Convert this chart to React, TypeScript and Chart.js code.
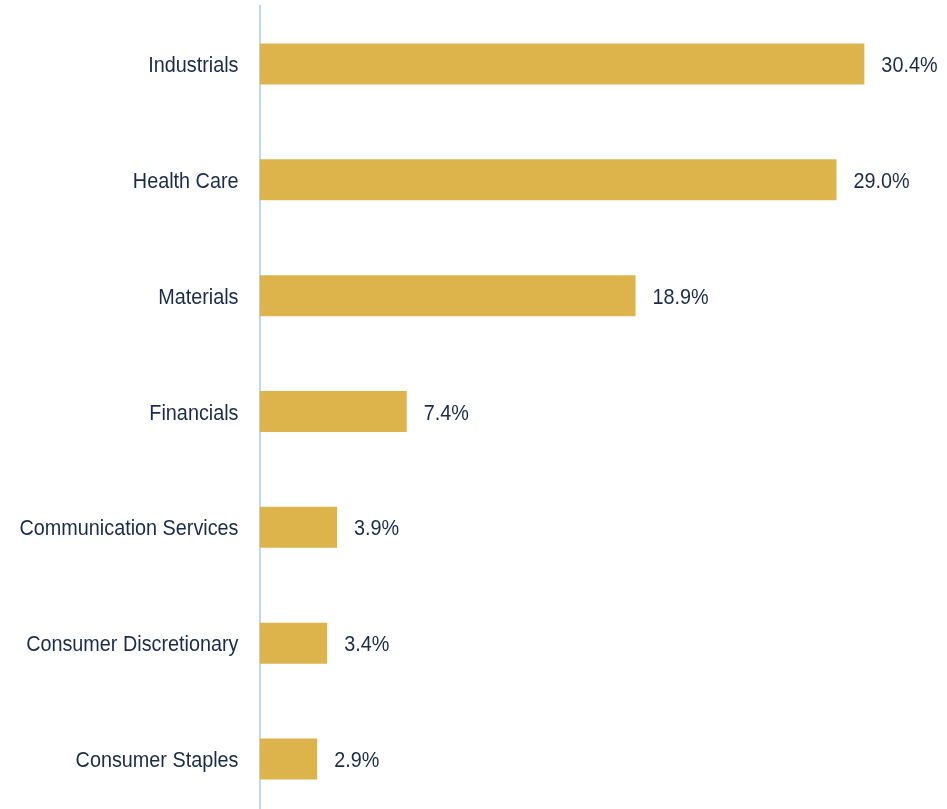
import React, { useEffect, useRef } from "react";
import { Chart, registerables } from "chart.js";

Chart.register(...registerables);

const categories = [
  "Industrials",
  "Health Care",
  "Materials",
  "Financials",
  "Communication Services",
  "Consumer Discretionary",
  "Consumer Staples",
];
const values = [30.4, 29.0, 18.9, 7.4, 3.9, 3.4, 2.9];
const valueLabels = ["30.4%", "29.0%", "18.9%", "7.4%", "3.9%", "3.4%", "2.9%"];

const FONT = "'Liberation Sans', Arial, sans-serif";
const TEXT = "#1A2C4B";
const BAR = "#DDB44C";
const AXIS = "#B9D9F7";
const SX = 0.9;

function drawNarrow(ctx: CanvasRenderingContext2D, text: string, x: number, y: number, align: CanvasTextAlign) {
  ctx.save();
  ctx.translate(x, y);
  ctx.scale(SX, 1);
  ctx.textAlign = align;
  ctx.fillText(text, 0, 0);
  ctx.restore();
}

const labelPlugin = {
  id: "narrowLabels",
  afterDatasetsDraw(chart: any) {
    const ctx = chart.ctx as CanvasRenderingContext2D;
    const meta = chart.getDatasetMeta(0);
    ctx.save();
    ctx.font = `22px ${FONT}`;
    ctx.fillStyle = TEXT;
    ctx.textBaseline = "alphabetic";
    const left = chart.chartArea.left;
    meta.data.forEach((bar: any, i: number) => {
      drawNarrow(ctx, valueLabels[i], bar.x + 17, bar.y + 8, "left");
      drawNarrow(ctx, categories[i], left - 21, bar.y + 8, "right");
    });
    ctx.restore();
  },
};

export default function App() {
  const ref = useRef<HTMLCanvasElement | null>(null);
  useEffect(() => {
    if (!ref.current) return;
    const chart = new Chart(ref.current, {
      type: "bar",
      data: {
        labels: categories,
        datasets: [
          {
            data: values,
            backgroundColor: BAR,
            borderWidth: 0,
            categoryPercentage: 1,
            barPercentage: 0.354,
          },
        ],
      },
      options: {
        indexAxis: "y",
        animation: false,
        responsive: false,
        maintainAspectRatio: false,
        layout: { padding: { top: 6, right: 11, bottom: 0, left: 0 } },
        plugins: {
          legend: { display: false },
          tooltip: { enabled: false },
        },
        scales: {
          x: {
            min: 0,
            max: 34,
            display: false,
            grid: { display: false },
          },
          y: {
            grid: { display: false, drawTicks: false },
            border: { display: true, color: AXIS, width: 2 },
            ticks: { display: false },
            afterFit: (scale: any) => {
              scale.width = 259.5;
            },
          },
        },
      },
      plugins: [labelPlugin],
    });
    return () => chart.destroy();
  }, []);
  return (
    <div style={{ position: "fixed", left: 0, top: 0, width: 947, height: 809, overflow: "hidden", background: "#fff" }}>
      <canvas ref={ref} width={947} height={817} style={{ width: 947, height: 817, display: "block" }} />
    </div>
  );
}
